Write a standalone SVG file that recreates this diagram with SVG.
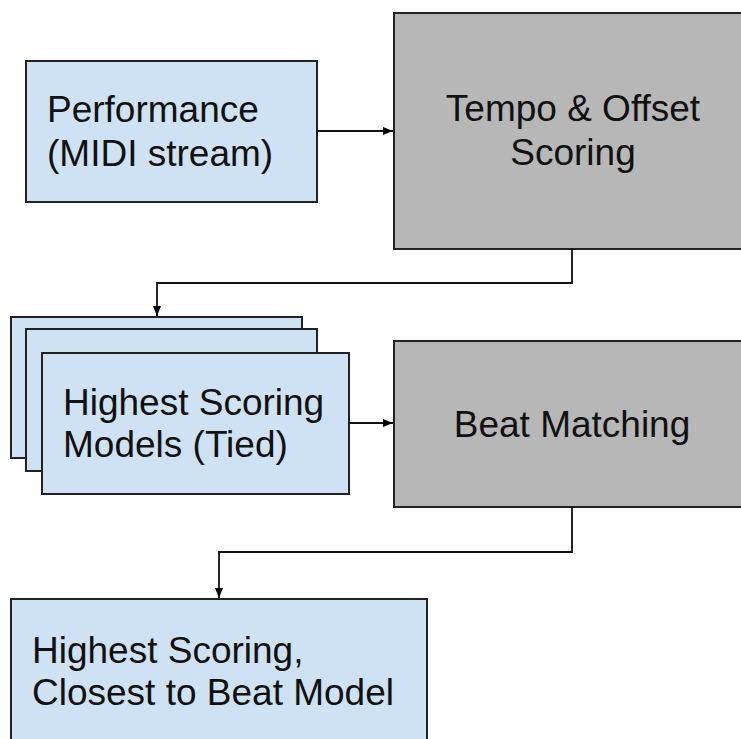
<svg xmlns="http://www.w3.org/2000/svg" width="741" height="739" viewBox="0 0 741 739">
  <defs>
    <marker id="arr" viewBox="0 0 10 10" refX="10" refY="5" markerWidth="10" markerHeight="10" markerUnits="userSpaceOnUse" orient="auto">
      <path d="M0,1 L10,5 L0,9 Z" fill="#000"/>
    </marker>
    <style>
      .blue { fill: #cfe2f3; stroke: #222; stroke-width: 2; }
      .gray { fill: #b7b7b7; stroke: #222; stroke-width: 2; }
      .lbl { font-family: "Liberation Sans", Arial, sans-serif; font-size: 37px; fill: #111; }
      .mid { text-anchor: middle; }
      .conn { fill: none; stroke: #111; stroke-width: 1.8; marker-end: url(#arr); }
    </style>
  </defs>
  <rect x="0" y="0" width="741" height="739" fill="#ffffff"/>

  <g id="performance">
    <rect class="blue" x="26" y="61" width="291" height="141"/>
    <text class="lbl" x="47" y="121.5">Performance</text>
    <text class="lbl" x="47" y="166">(MIDI stream)</text>
  </g>

  <g id="tempo-offset-scoring">
    <rect class="gray" x="394" y="13" width="360" height="236"/>
    <text class="lbl mid" x="573" y="121">Tempo &amp; Offset</text>
    <text class="lbl mid" x="573" y="165">Scoring</text>
  </g>

  <g id="highest-scoring-models">
    <rect class="blue" x="11" y="317" width="291" height="141"/>
    <rect class="blue" x="26" y="329" width="291" height="142"/>
    <rect class="blue" x="42" y="353" width="307" height="141"/>
    <text class="lbl" x="63" y="415">Highest Scoring</text>
    <text class="lbl" x="63" y="457">Models (Tied)</text>
  </g>

  <g id="beat-matching">
    <rect class="gray" x="394" y="341" width="360" height="166"/>
    <text class="lbl mid" x="572" y="437">Beat Matching</text>
  </g>

  <g id="closest-to-beat-model">
    <rect class="blue" x="11" y="599" width="416" height="160"/>
    <text class="lbl" x="32" y="663">Highest Scoring,</text>
    <text class="lbl" x="32" y="705">Closest to Beat Model</text>
  </g>

  <g id="connectors">
    <path class="conn" d="M317,131 H393"/>
    <path class="conn" d="M572,249 V283 H157 V316"/>
    <path class="conn" d="M349,423 H393"/>
    <path class="conn" d="M572,507 V552 H219 V598"/>
  </g>
</svg>
